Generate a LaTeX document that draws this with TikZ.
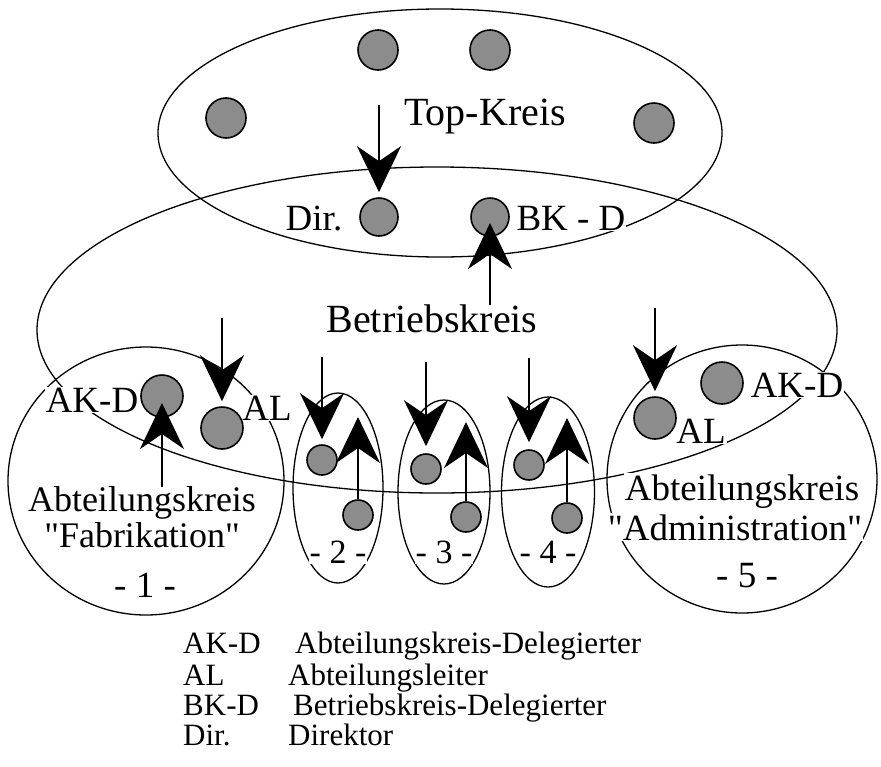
\documentclass[tikz,border=0pt]{standalone}
\usepackage{fontspec}
\newfontfamily\schrift{Liberation Serif}
\usepackage{tikz}
\usetikzlibrary{arrows.meta, shapes.geometric}
\definecolor{punktgrau}{RGB}{140,140,140}
\tikzset{
  kreis/.style={ellipse, draw, line width=1.3pt, inner sep=0pt},
  punkt/.style={circle, draw, line width=1.6pt, fill=punktgrau, inner sep=0pt, minimum size=#1},
  punkt/.default=40pt,
  pfeil/.style={line width=2.6pt, -{Stealth[length=46pt, width=44pt, inset=15pt]}},
  beschr/.style={fill=white, inner sep=1pt, anchor=base, font=\schrift\fontsize{37}{37}\selectfont},
  titel/.style={beschr, font=\schrift\fontsize{40}{40}\selectfont},
  nummer/.style={beschr, font=\schrift\fontsize{34}{34}\selectfont},
  legende/.style={anchor=base west, inner sep=0pt, font=\schrift\fontsize{31}{31}\selectfont},
}
\begin{document}
\begin{tikzpicture}[x=1pt, y=-1pt]
  \useasboundingbox (0,0) rectangle (881,766);
  % Kreise
  \node[kreis, minimum width=564pt, minimum height=248pt] (topkreis) at (440,133) {};
  \node[kreis, minimum width=800pt, minimum height=326pt] (betriebskreis) at (437,330) {};
  \node[kreis, minimum width=276pt, minimum height=268pt] (ak1) at (146,481) {};
  \node[kreis, minimum width=90pt, minimum height=190pt] (ak2) at (338,488) {};
  \node[kreis, minimum width=92pt, minimum height=184pt] (ak3) at (444,492) {};
  \node[kreis, minimum width=93pt, minimum height=190pt] (ak4) at (548,492) {};
  \node[kreis, minimum width=270pt, minimum height=268pt] (ak5) at (742,479) {};

  % Beschriftungen
  \node[titel] (tk) at (485,125) {Top-Kreis};
  \node[beschr] (dirl) at (314,230) {Dir.};
  \node[beschr] (bkdl) at (571,230) {BK - D};
  \node[titel] (bkl) at (432,332) {Betriebskreis};
  \node[beschr] (akd1l) at (92,412) {AK-D};
  \node[beschr] (al1l) at (267,420) {AL};
  \node[beschr, font=\schrift\fontsize{36}{36}\selectfont] (abt1) at (142,511) {Abteilungskreis};
  \node[beschr, fill=none, font=\schrift\fontsize{36}{36}\selectfont] (fab) at (142,547) {"Fabrikation"};
  \node[beschr] (nr1) at (145,597) {- 1 -};
  \node[nummer] (nr2) at (338,563) {- 2 -};
  \node[nummer] (nr3) at (444,563) {- 3 -};
  \node[nummer] (nr4) at (548,563) {- 4 -};
  \node[beschr] (akd5l) at (797,397) {AK-D};
  \node[beschr] (al5l) at (701,443) {AL};
  \node[beschr] (abt5) at (742,500) {Abteilungskreis};
  \node[beschr] (adm) at (735,540) {"Administration"};
  \node[beschr] (nr5) at (747,587) {- 5 -};

  % Personen
  \node[punkt] (t1) at (226,118) {};
  \node[punkt] (t2) at (378,50) {};
  \node[punkt] (t3) at (490,50) {};
  \node[punkt] (t4) at (654,123) {};
  \node[punkt=38pt] (dir) at (379,217) {};
  \node[punkt=38pt] (bkd) at (490,217) {};
  \node[punkt=42pt] (akd1) at (162,396) {};
  \node[punkt=42pt] (al1) at (222,428) {};
  \node[punkt=30pt] (al2) at (322,460) {};
  \node[punkt=30pt] (akd2) at (358,515) {};
  \node[punkt=30pt] (al3) at (426,469) {};
  \node[punkt=30pt] (akd3) at (466,517) {};
  \node[punkt=30pt] (al4) at (529,465) {};
  \node[punkt=30pt] (akd4) at (567,518) {};
  \node[punkt=42pt] (al5) at (655,418) {};
  \node[punkt=42pt] (akd5) at (722,383) {};

  % Pfeile
  \coordinate (vonTop) at (379,105);
  \coordinate (vonBK) at (490,305);
  \coordinate (vonBK1) at (222,318);
  \coordinate (vonAK1) at (162,487);
  \coordinate (vonBK2) at (322,357);
  \coordinate (vonBK3) at (426,362);
  \coordinate (vonBK4) at (529,358);
  \coordinate (vonBK5) at (655,308);
  \coordinate (nachBK2) at (358,417);
  \coordinate (nachBK3) at (466,422);
  \coordinate (nachBK4) at (567,418);

  \draw[pfeil, shorten >=5pt] (vonTop) -- (dir);
  \draw[pfeil, shorten >=6pt] (vonBK) -- (bkd.center);
  \draw[pfeil, shorten >=5pt] (vonBK1) -- (al1);
  \draw[pfeil, shorten >=7pt] (vonAK1) -- (akd1.center);
  \draw[pfeil, shorten >=5pt] (vonBK2) -- (al2);
  \draw[pfeil, shorten >=7pt] (vonBK3) -- (al3);
  \draw[pfeil, shorten >=7pt] (vonBK4) -- (al4);
  \draw[pfeil, shorten >=5pt] (vonBK5) -- (al5);
  \draw[pfeil] (akd2) -- (nachBK2);
  \draw[pfeil] (akd3) -- (nachBK3);
  \draw[pfeil] (akd4) -- (nachBK4);

  % Legende
  \node[legende] (k1) at (183,653) {AK-D};
  \node[legende] (b1) at (295,653) {Abteilungskreis-Delegierter};
  \node[legende] (k2) at (183,685) {AL};
  \node[legende] (b2) at (288,685) {Abteilungsleiter};
  \node[legende] (k3) at (183,715) {BK-D};
  \node[legende] (b3) at (293,715) {Betriebskreis-Delegierter};
  \node[legende] (k4) at (183,745) {Dir.};
  \node[legende] (b4) at (288,745) {Direktor};
\end{tikzpicture}
\end{document}
